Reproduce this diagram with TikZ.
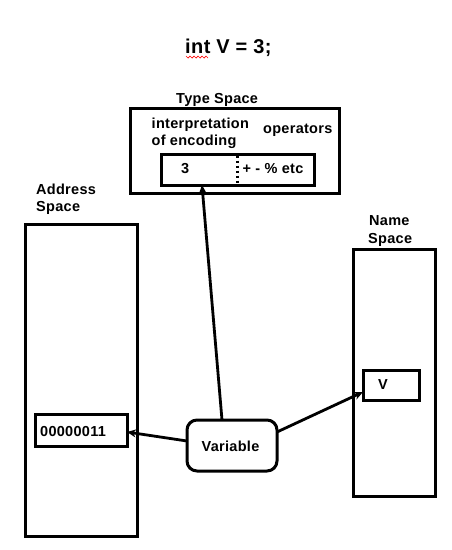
\documentclass[tikz,border=0pt]{standalone}
\usepackage{fontspec}
\setmainfont{Liberation Sans}[LetterSpace=2]
\usetikzlibrary{arrows.meta,calc}
\begin{document}
\begin{tikzpicture}[x=1pt,y=-1pt,
  box/.style={draw,line width=3pt,inner sep=0pt,outer sep=0pt},
  lbl/.style={anchor=base west,inner sep=0pt,font=\fontsize{14.5}{16}\bfseries},
  conn/.style={line width=2.8pt,-{Stealth[length=9pt,width=8pt]}}]
\useasboundingbox (0,0) rectangle (451,550);
\fill[white] (0,0) rectangle (451,550);
% title
\node[lbl,font=\fontsize{20}{22}\bfseries] (title) at (185,53.5) {int V = 3;};
\draw[red,line width=0.7pt] (186,56) -- (188,58) -- (190,56) -- (192,58) -- (194,56) -- (196,58) -- (198,56) -- (200,58) -- (202,56) -- (204,58) -- (206,56) -- (208,58);
% type space
\node[lbl] (typelbl) at (176,103) {Type Space};
\node[box,minimum width=209pt,minimum height=85pt] (typebox) at (234.5,150.5) {};
\node[lbl] (interp) at (151.5,128.5) {interpretation};
\node[lbl] (encod) at (151.5,145.5) {of encoding};
\node[lbl] (oper) at (263,133) {operators};
\node[box,minimum width=153pt,minimum height=31pt] (inner) at (237.5,169.5) {};
\node[lbl] (three) at (181,173) {3};
\node[lbl] (ops) at (242.5,173) {+ - \% etc};
\draw[line width=3pt,dash pattern=on 2.5pt off 2.5pt] ($(inner.north west)+(76,1.5)$) coordinate (dtop) -- ($(inner.south west)+(76,-1.5)$) coordinate (dbot);
% address space
\node[lbl] (addrlbl) at (36,194) {Address};
\node[lbl] (addrlbl2) at (36,211) {Space};
\node[box,minimum width=112pt,minimum height=312pt] (addrbox) at (81,380) {};
\node[box,minimum width=92pt,minimum height=32pt] (valbox) at (81,430) {};
\node[lbl] (val) at (40,436) {00000011};
% name space
\node[lbl] (namelbl) at (369,225) {Name};
\node[lbl] (namelbl2) at (368,243) {Space};
\node[box,minimum width=82pt,minimum height=247pt] (namebox) at (394,372.5) {};
\node[box,minimum width=56pt,minimum height=30pt] (vbox) at (391,385) {};
\node[lbl] (vname) at (378,389.5) {V};
% variable
\node[box,rounded corners=10pt,minimum width=90pt,minimum height=51pt] (var) at (232,445.5) {};
\node[lbl] (varlbl) at (201.5,451) {Variable};
% connectors
\draw[conn] ([xshift=-10pt]var.north) -- ([xshift=-35.5pt]inner.south);
\draw[conn] ([yshift=4.5pt]var.west) -- ([yshift=-2pt]valbox.east);
\draw[conn] ([yshift=13.5pt]var.east) -- ([yshift=-7pt]vbox.west);
\end{tikzpicture}
\end{document}
